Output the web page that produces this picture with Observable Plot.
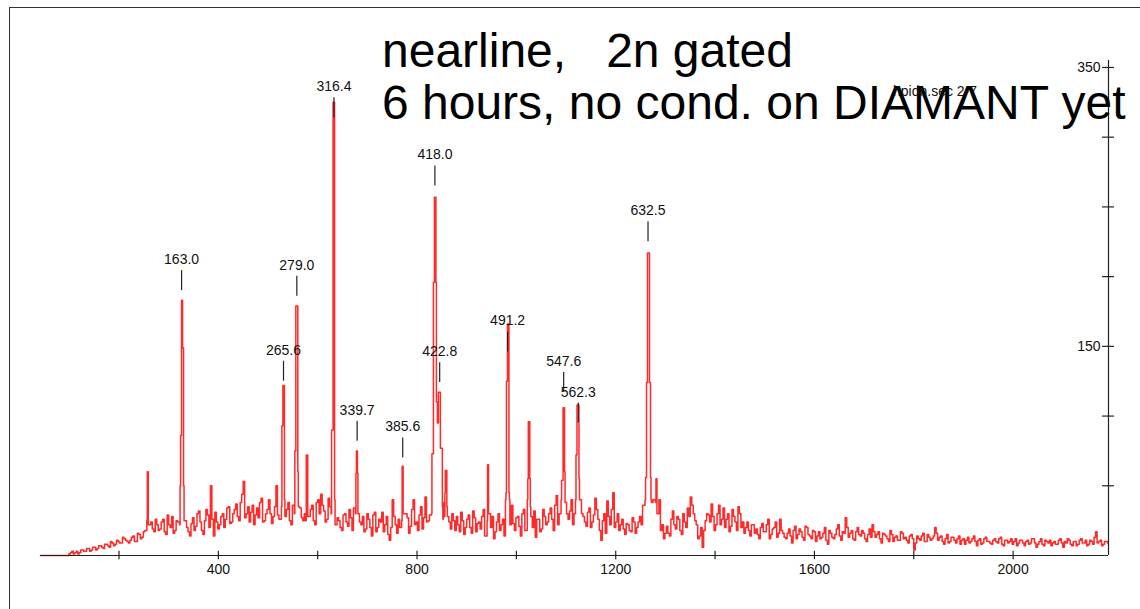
<!DOCTYPE html>
<html>
<head>
<meta charset="utf-8">
<script src="https://cdn.jsdelivr.net/npm/d3@7"></script>
<script src="https://cdn.jsdelivr.net/npm/@observablehq/plot@0.6"></script>
<style>
  html, body { margin: 0; padding: 0; background: #fff; overflow: hidden; }
  body { width: 1140px; height: 609px; position: relative; font-family: "Liberation Sans", Arial, Helvetica, sans-serif; }
  #frame { position: absolute; left: 9px; top: 7px; width: 1300px; height: 800px; border: 1.5px solid #333; }
  #chart { position: absolute; left: 0; top: 0; }
  #title { position: absolute; left: 382px; top: 25px; font-size: 48px; line-height: 52px; color: #000; white-space: pre; }
  #tag { position: absolute; left: 893px; top: 84px; font-size: 14px; line-height: 14px; color: #111; white-space: pre; }
</style>
</head>
<body>
<div id="frame"></div>
<div id="chart"></div>
<div id="title">nearline,   2n gated
6 hours, no cond. on DIAMANT yet</div>
<div id="tag">hpidn.sec 2-7</div>
<script>
// ---- data ----
const keVPerChannel = 0.5;
const bgStepChannels = 6;
// background counts on channels 42, 48, 54, ...
const bgStartChannel = 42;
const bgCounts = [
  0,0,0,0,0,0,0,0,0,0,
  2,1,3,2,4,3,5,4,6,5,
  7,5,8,6,9,8,10,9,12,10,
  11,14,10,15,13,18,22,24,17,22,
  19,26,15,22,28,18,24,22,25,20,
  14,27,21,32,18,25,29,50,14,24,
  22,30,26,35,24,33,28,38,53,30,
  24,36,29,27,41,25,33,30,28,50,
  26,30,24,38,22,41,30,34,25,30,
  28,36,22,40,44,32,26,35,30,22,
  25,18,30,21,27,34,16,24,28,19,
  26,14,31,20,24,17,28,11,40,22,
  26,30,18,27,21,40,24,29,19,42,
  25,20,30,30,30,30,30,24,30,18,
  22,31,15,26,20,32,17,24,28,14,
  25,20,12,24,18,26,30,30,36,18,
  28,14,33,22,30,20,13,26,19,28,
  24,34,18,43,30,30,38,26,40,30,
  30,30,28,21,34,24,41,26,11,30,
  39,22,45,24,18,26,15,22,17,24,
  20,28,36,40,40,40,37,35,18,12,
  21,14,32,19,26,15,24,34,42,30,
  22,14,6,25,29,37,18,30,22,34,
  26,17,33,24,35,20,16,24,14,22,
  19,12,23,17,26,15,20,13,26,16,
  12,19,9,21,15,17,11,20,14,18,
  10,17,13,20,8,16,12,19,14,17,
  27,13,18,11,20,14,16,10,19,22,
  13,17,9,15,12,18,10,14,11,16,
  13,9,15,4,14,11,16,10,13,12,
  20,11,14,8,15,10,13,9,14,11,
  8,13,10,14,7,12,9,13,10,8,
  12,9,13,7,11,10,8,12,9,11,
  7,11,9,12,6,10,8,11,9,7,
  10,8,12,6,9,11,7,10,8,12,
  9,7,11,8,17,10,7,10,9
];
// background counts on the in-between channels 45, 51, 57, ...
const bgMidStartChannel = 45;
const bgMidCounts = [
  0,0,0,0,0,0,0,0,0,1,
  3,2,1,4,3,5,3,6,4,7,
  6,8,7,10,7,11,9,13,11,9,
  13,10,16,12,17,15,20,19,26,18,
  24,17,29,20,16,25,21,30,22,17,
  23,18,30,24,15,33,20,26,31,19,
  28,20,34,23,30,37,25,44,27,35,
  31,22,34,38,24,30,40,23,35,29,
  33,27,33,25,36,28,38,27,30,36,
  33,25,38,30,36,24,41,29,36,27,
  20,29,24,33,18,26,31,22,17,30,
  20,29,17,26,31,22,15,20,28,16,
  20,24,30,16,33,22,18,35,27,24,
  29,22,30,30,30,30,30,19,25,28,
  17,25,20,29,16,27,23,19,33,22,
  30,28,17,30,22,14,30,30,23,27,
  21,30,18,27,30,32,26,17,33,22,
  30,26,36,22,30,30,30,32,22,30,
  30,30,24,31,20,29,33,18,25,16,
  28,33,20,30,22,19,23,18,27,16,
  24,22,40,40,40,40,30,40,22,16,
  16,26,22,28,18,30,20,28,36,25,
  12,20,18,30,24,28,22,36,26,20,
  30,21,28,18,30,24,20,18,22,16,
  15,20,17,22,12,19,24,16,18,13,
  16,14,18,12,19,13,21,15,12,17,
  14,12,16,11,18,13,15,22,11,16,
  20,16,12,17,15,18,12,15,13,17,
  15,12,16,14,10,15,13,11,17,12,
  11,14,12,9,12,14,10,15,11,14,
  16,13,10,12,9,13,11,12,8,12,
  11,9,12,10,11,8,12,10,9,11,
  10,12,8,11,9,12,10,7,11,9,
  10,8,12,9,8,12,7,10,11,9,
  8,11,9,10,12,8,10,7,11,9,
  11,8,10,13,9,11,8,10
];

const peakChannels = [
  256,257,258,259,
  322,323,324,325,326,327,328,329,330,331,
  527,528,529,530,531,532,533,534,
  553,554,555,556,557,558,559,560,561,
  576,577,578,579,580,
  627,628,629,630,631,632,633,634,635,
  676,677,678,679,680,681,
  769,770,771,772,
  829,830,831,832,833,834,835,836,837,838,839,840,841,842,843,844,845,846,847,848,849,850,851,852,853,854,855,856,857,858,859,860,861,
  941,942,943,944,
  978,979,980,981,982,983,984,985,986,987,
  1022,1023,1024,1025,1026,1027,1028,1029,
  1090,1091,1092,1093,1094,1095,1096,1097,1098,
  1119,1120,1121,1122,1123,1124,1125,1126,1127,
  1258,1259,1260,1261,1262,1263,1264,1265,1266,1267,1268,1269,1270,1271,1272,
  1280,1281,1282,1283
];
const peakCounts = [
  25,60,60,22,
  22,50,86,86,183,183,149,149,50,25,
  35,93,93,122,122,122,40,28,
  30,75,75,179,179,179,179,60,35,
  25,72,72,72,28,
  30,90,90,90,325,325,325,40,22,
  30,59,75,75,59,30,
  25,64,64,30,
  30,73,73,73,196,196,257,257,257,196,110,110,95,95,117,117,117,117,77,77,77,77,35,26,30,38,28,45,61,61,61,35,28,
  25,65,65,30,
  40,45,125,125,166,166,166,45,40,22,
  40,55,96,96,96,55,35,28,
  40,54,54,54,106,106,106,60,38,
  40,72,72,108,108,108,108,55,40,
  36,40,56,56,124,124,217,217,217,217,124,124,56,40,38,
  38,55,55,30
];

const labelEnergies = [163.0, 265.6, 279.0, 316.4, 339.7, 385.6, 418.0, 422.8, 491.2, 547.6, 562.3, 632.5];
const labelTexts = ["163.0", "265.6", "279.0", "316.4", "339.7", "385.6", "418.0", "422.8", "491.2", "547.6", "562.3", "632.5"];
const labelTickCounts = [190, 125, 186, 314, 82, 70, 265, 124, 146, 117, 95, 225];

const xDomain = [42, 2192];
const yDomain = [0, 355];
const xTickValues = [200, 400, 600, 800, 1000, 1200, 1400, 1600, 1800, 2000];
const xLabelValues = [400, 800, 1200, 1600, 2000];
const yTickValues = [50, 100, 150, 200, 250, 300, 350];
const yLabelValues = [150, 350];

// ---- build table ----
const peakTable = peakChannels.map((c, i) => ({ch: c, counts: peakCounts[i]}));
const bgTable = bgCounts.map((v, i) => ({ch: bgStartChannel + i * bgStepChannels, counts: v}))
  .concat(bgMidCounts.map((v, i) => ({ch: bgMidStartChannel + i * bgStepChannels, counts: v})))
  .filter(d => !peakChannels.some(p => Math.abs(p - d.ch) < 3));
const spectrum = bgTable.concat(peakTable).sort((a, b) => a.ch - b.ch);

const labels = labelEnergies.map((e, i) => ({ch: e / keVPerChannel, text: labelTexts[i], base: labelTickCounts[i]}));

const font = "Liberation Sans, Arial, Helvetica, sans-serif";
const xMax = xDomain[1];

const chart = Plot.plot({
  width: 1140,
  height: 609,
  marginLeft: 40,
  marginRight: 32,
  marginTop: 60,
  marginBottom: 54,
  style: {fontFamily: font, fontSize: "14px", background: "transparent", overflow: "visible"},
  x: {domain: xDomain, axis: null},
  y: {domain: yDomain, axis: null},
  marks: [
    Plot.line(spectrum, {x: "ch", y: "counts", curve: "step-after", stroke: "#ff2a2a", strokeWidth: 1.5}),
    Plot.ruleY([0], {stroke: "#222", strokeWidth: 1.2}),
    Plot.ruleX([xMax], {stroke: "#222", strokeWidth: 1.2}),
    Plot.ruleX(xTickValues, {x: d => d, y1: -3, y2: 3, stroke: "#222", strokeWidth: 1.2}),
    Plot.ruleY(yTickValues, {y: d => d, x1: xMax - 12, x2: xMax + 12, stroke: "#222", strokeWidth: 1.2}),
    Plot.text(xLabelValues, {x: d => d, y: 0, dy: 14.5, text: d => String(d), fill: "#111", fontSize: 14}),
    Plot.text(yLabelValues, {x: xMax, y: d => d, dx: -8, textAnchor: "end", text: d => String(d), fill: "#111", fontSize: 14}),
    Plot.ruleX(labels, {x: "ch", y1: "base", y2: d => d.base + 14.3, stroke: "#222", strokeWidth: 1.2}),
    Plot.text(labels, {x: "ch", y: "base", dy: -31, text: "text", fill: "#111", fontSize: 14})
  ]
});
document.getElementById("chart").appendChild(chart);
</script>
</body>
</html>
